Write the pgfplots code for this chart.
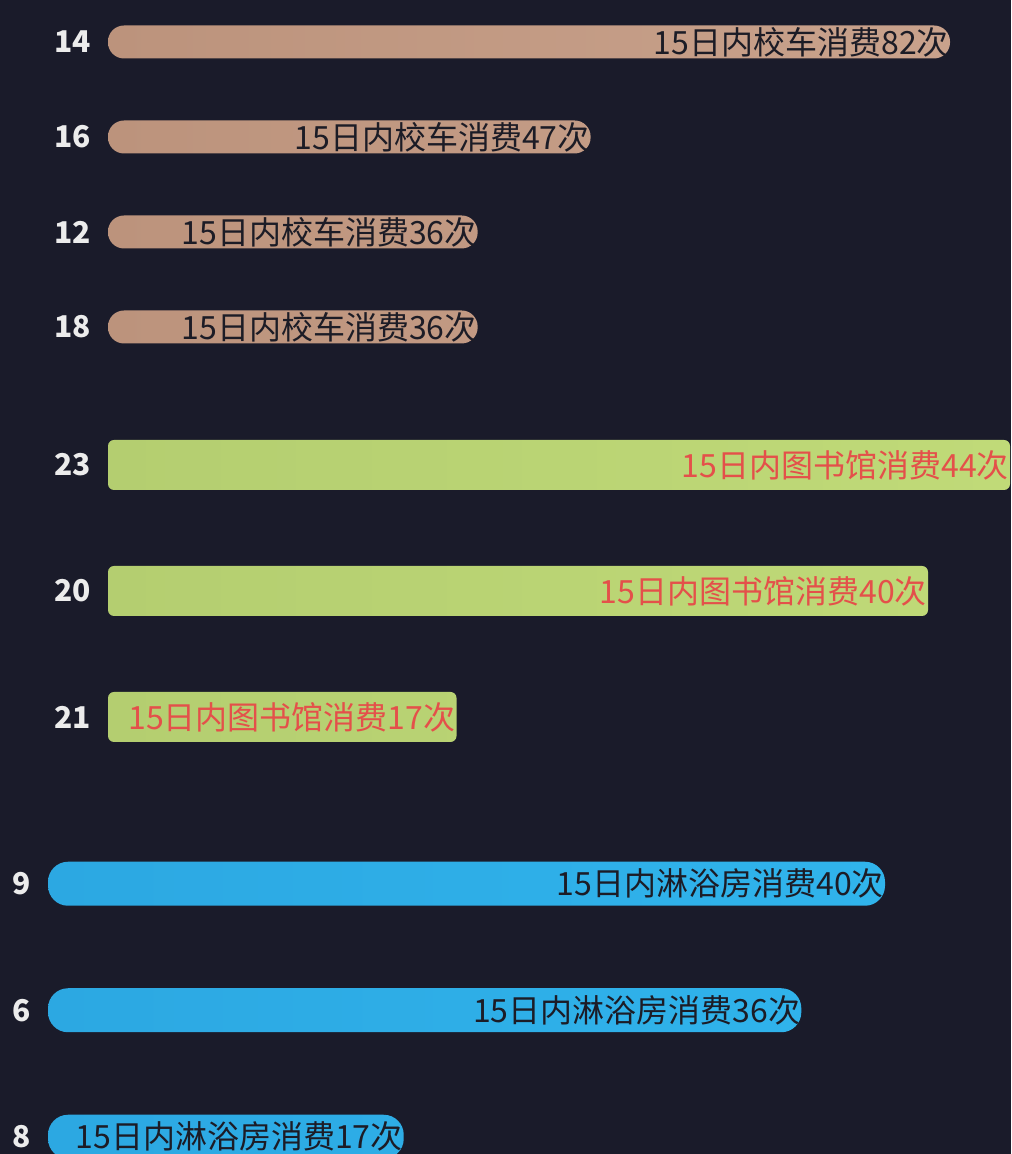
\documentclass[border=0pt]{standalone}
\usepackage{fontspec}
\setmainfont{Noto Sans CJK SC}
\usepackage{pgfplots}
\usepackage{pgfplotstable}
\pgfplotsset{compat=1.18}

\definecolor{bg}{HTML}{1A1B2A}
\definecolor{busL}{HTML}{BC937C}
\definecolor{busR}{HTML}{C9A28C}
\definecolor{libL}{HTML}{B4CE70}
\definecolor{libR}{HTML}{C0DA78}
\definecolor{bathL}{HTML}{2CA8E2}
\definecolor{bathR}{HTML}{30B4EC}
\definecolor{redtxt}{HTML}{E4504A}
\definecolor{darktxt}{HTML}{1C1C26}
\definecolor{ticktxt}{HTML}{ECECEC}

% school bus, bottom to top
\pgfplotstableread{
pos val
0 36
1 36
2 47
3 82
}\busdata
% library
\pgfplotstableread{
pos val
0 17
1 40
2 44
}\libdata
% shower
\pgfplotstableread{
pos val
0 17
1 36
2 40
}\bathdata

\pgfplotsset{
  rowbars/.style={
    xbar, scale only axis, clip=false,
    xmin=0, ymin=-0.5,
    hide x axis,
    axis line style={draw=none},
    major tick style={draw=none},
    yticklabel style={text=ticktxt, font=\fontsize{15}{17}\selectfont\bfseries,
      inner sep=0pt, xshift=-4pt},
    point meta=x,
    /pgf/number format/assume math mode=true,
    every node near coord/.append style={anchor=east, xshift=3pt,
      font=\fontsize{16}{18}\selectfont},
  },
}

\begin{document}
\begin{tikzpicture}
\useasboundingbox (0,0) rectangle (505.5pt,577pt);
\fill[bg] (0,0) rectangle (505.5pt,577pt);

\begin{axis}[rowbars,
  at={(54pt,389.75pt)}, anchor=south west,
  width=421pt, height=190pt,
  xmax=82, ymax=3.5, bar width=16.5pt,
  ytick={0,1,2,3}, yticklabels={18,12,16,14},
  nodes near coords={15日内校车消费\pgfmathprintnumber{\pgfplotspointmeta}次},
  every node near coord/.append style={text=darktxt},
]
\addplot[draw=none, left color=busL, right color=busR, rounded corners=8pt]
  table[x=val, y=pos] {\busdata};
\end{axis}

\begin{axis}[rowbars,
  at={(54pt,187pt)}, anchor=south west,
  width=451pt, height=189pt,
  xmax=44, ymax=2.5, bar width=25pt,
  ytick={0,1,2}, yticklabels={21,20,23},
  nodes near coords={15日内图书馆消费\pgfmathprintnumber{\pgfplotspointmeta}次},
  every node near coord/.append style={text=redtxt},
]
\addplot[draw=none, left color=libL, right color=libR, rounded corners=3pt]
  table[x=val, y=pos] {\libdata};
\end{axis}

\begin{axis}[rowbars,
  at={(24pt,-23pt)}, anchor=south west,
  width=418.5pt, height=189.75pt,
  xmax=40, ymax=2.5, bar width=22pt,
  ytick={0,1,2}, yticklabels={8,6,9},
  nodes near coords={15日内淋浴房消费\pgfmathprintnumber{\pgfplotspointmeta}次},
  every node near coord/.append style={text=darktxt},
]
\addplot[draw=none, left color=bathL, right color=bathR, rounded corners=10pt]
  table[x=val, y=pos] {\bathdata};
\end{axis}
\end{tikzpicture}
\end{document}
